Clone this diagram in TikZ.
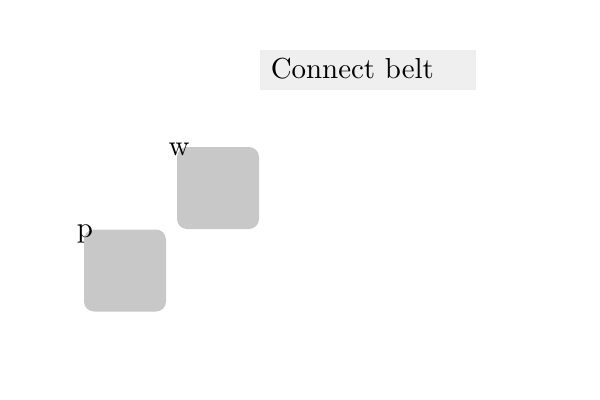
\documentclass[tikz,border=0pt]{standalone}
\usepackage{graphicx}
\tikzset{
  px/.style={x=0.75pt,y=-0.75pt},
  tile/.style={fill=tilegray, rounded corners=7.5pt, minimum width=61.5pt, minimum height=61.5pt, inner sep=0pt},
  lbl/.style={inner sep=0pt, font=\fontsize{10}{12}\selectfont},
  banner/.style={fill=bannergray, minimum width=162pt, minimum height=29.5pt, inner sep=0pt, anchor=north west},
}
\newcommand{\bigtxt}[1]{\scalebox{2.17}{#1}}
\definecolor{tilegray}{HTML}{C8C8C8}
\definecolor{bannergray}{HTML}{EFEFEF}
\begin{document}
\begin{tikzpicture}[px]
\useasboundingbox (0,0) rectangle (600,400);
\node[banner] (bannerbox) at (260,50) {};
\node[lbl, anchor=base west] (bannertext) at (270.5,78.5) {\bigtxt{Connect belt}};
\node[tile] (w) at (218,188) {};
\node[tile] (p) at (125,270.5) {};
\node[lbl, anchor=base] (wl) at (179,155) {\bigtxt{w}};
\node[lbl, anchor=base] (pl) at (85,237.5) {\bigtxt{p}};
\end{tikzpicture}
\end{document}
